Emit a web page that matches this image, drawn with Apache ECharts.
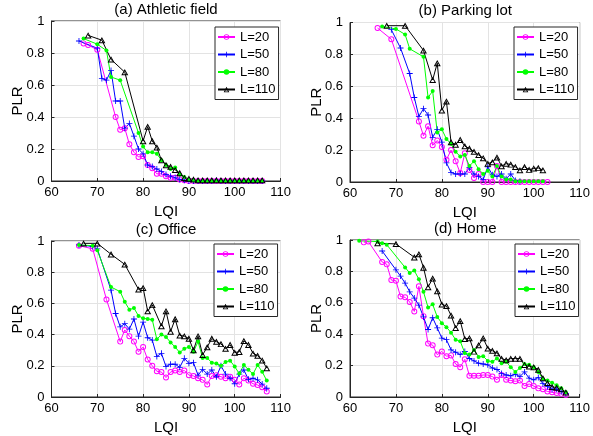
<!DOCTYPE html>
<html>
<head>
<meta charset="utf-8">
<script src="https://cdn.jsdelivr.net/npm/echarts@6/dist/echarts.min.js"></script>
<style>
  html, body { margin: 0; padding: 0; background: #fff; }
  #chart { width: 593px; height: 436px; }
</style>
</head>
<body>
<div id="chart"></div>
<script>
// [LQI, PLR] pairs, one array per panel and packet length
const aL20 = [[67,0.86],[68,0.85],[70,0.82],[74,0.40],[75,0.32],[76,0.33],[77,0.23],[78,0.18],[79,0.15],[80,0.155],[81,0.10],[82,0.08],[83,0.045],[84,0.045],[85,0.03],[86,0.02],[87,0.02],[88,0.01],[89,0.005],[90,0],[91,0],[92,0],[93,0],[94,0],[95,0],[96,0],[97,0],[98,0],[99,0],[100,0],[101,0],[102,0],[103,0],[104,0],[105,0],[106,0]]
const aL50 = [[66,0.875],[70,0.83],[71,0.64],[72,0.63],[73,0.69],[74,0.50],[75,0.50],[76,0.33],[77,0.36],[78,0.28],[79,0.20],[80,0.17],[81,0.10],[82,0.09],[83,0.075],[84,0.06],[85,0.04],[86,0.03],[87,0.02],[88,0.01],[89,0.005],[90,0],[91,0],[92,0],[93,0],[94,0],[95,0],[96,0.005],[97,0],[98,0],[99,0],[100,0],[101,0],[102,0],[103,0],[104,0],[105,0],[106,0]]
const aL80 = [[67,0.89],[70,0.855],[72,0.815],[73,0.65],[75,0.63],[79,0.30],[80,0.215],[81,0.18],[82,0.18],[83,0.17],[84,0.13],[85,0.10],[86,0.075],[87,0.085],[88,0.04],[89,0.025],[90,0.01],[91,0.005],[92,0],[93,0],[94,0],[95,0],[96,0],[97,0],[98,0],[99,0],[100,0],[101,0],[102,0],[103,0],[104,0],[105,0],[106,0]]
const aL110 = [[68,0.91],[71,0.88],[73,0.76],[76,0.68],[80,0.25],[81,0.34],[82,0.25],[83,0.21],[84,0.13],[85,0.10],[86,0.09],[87,0.07],[88,0.05],[89,0.02],[90,0.015],[91,0.01],[92,0.005],[93,0.005],[94,0.005],[95,0.005],[96,0.005],[97,0.005],[98,0.005],[99,0.005],[100,0.005],[101,0.005],[102,0.005],[103,0.005],[104,0.005],[105,0.005],[106,0.005]]

const bL20 = [[66,0.965],[69,0.895],[75,0.38],[76,0.29],[77,0.35],[78,0.23],[79,0.26],[80,0.22],[81,0.14],[82,0.20],[83,0.13],[84,0.056],[85,0.18],[86,0.075],[87,0.025],[88,0.05],[89,0],[90,0],[91,0],[92,0.10],[93,0],[94,0],[95,0],[96,0],[97,0],[98,0],[99,0],[100,0],[101,0],[102,0],[103,0]]
const bL50 = [[69,0.955],[71,0.84],[73,0.68],[74,0.53],[75,0.41],[76,0.46],[77,0.42],[78,0.28],[79,0.33],[80,0.25],[81,0.12],[82,0.06],[83,0.05],[84,0.05],[85,0.05],[86,0.09],[87,0.05],[88,0.035],[89,0.015],[90,0.095],[91,0.045],[92,0.035],[93,0.05],[94,0.02],[95,0.05],[96,0.01],[97,0.005]]
const bL80 = [[67,0.975],[70,0.96],[72,0.925],[73,0.835],[76,0.785],[77,0.53],[78,0.57],[79,0.31],[80,0.33],[81,0.27],[82,0.24],[83,0.19],[84,0.16],[85,0.17],[86,0.10],[87,0.13],[88,0.08],[89,0.05],[90,0.07],[91,0.035],[92,0.10],[93,0.035],[94,0.015],[95,0.015],[96,0.005],[97,0.005],[98,0.005],[99,0.005],[100,0.005],[101,0.005],[102,0.005]]
const bL110 = [[68,0.98],[72,0.98],[76,0.825],[78,0.64],[79,0.745],[80,0.45],[81,0.505],[82,0.25],[83,0.235],[84,0.265],[85,0.225],[86,0.21],[87,0.19],[88,0.17],[89,0.15],[90,0.115],[91,0.125],[92,0.155],[93,0.10],[94,0.115],[95,0.11],[96,0.095],[97,0.075],[98,0.095],[99,0.077],[100,0.085],[101,0.088],[102,0.075]]

const cL20 = [[66,0.97],[69,0.95],[72,0.625],[75,0.355],[76,0.43],[77,0.39],[78,0.355],[79,0.29],[80,0.32],[81,0.24],[82,0.20],[83,0.165],[84,0.16],[85,0.125],[86,0.16],[87,0.17],[88,0.16],[89,0.17],[90,0.14],[91,0.135],[92,0.12],[93,0.11],[94,0.08],[95,0.135],[96,0.14],[97,0.13],[98,0.12],[99,0.13],[100,0.11],[101,0.08],[102,0.12],[103,0.105],[104,0.085],[105,0.077],[106,0.062],[107,0.035]]
const cL50 = [[66,0.975],[69,0.965],[70,0.95],[73,0.685],[74,0.535],[75,0.45],[76,0.47],[77,0.435],[78,0.50],[79,0.39],[80,0.48],[81,0.38],[82,0.365],[83,0.26],[84,0.28],[85,0.195],[86,0.21],[87,0.21],[88,0.19],[89,0.248],[90,0.216],[91,0.22],[92,0.14],[93,0.177],[94,0.147],[95,0.173],[96,0.13],[97,0.20],[98,0.147],[99,0.12],[100,0.085],[101,0.147],[102,0.173],[103,0.113],[104,0.12],[105,0.11],[106,0.083],[107,0.056]]
const cL80 = [[66,0.975],[69,0.97],[70,0.94],[73,0.705],[75,0.675],[76,0.61],[77,0.56],[78,0.57],[79,0.52],[80,0.505],[81,0.50],[82,0.495],[83,0.37],[84,0.40],[85,0.385],[86,0.35],[87,0.32],[88,0.285],[89,0.31],[90,0.32],[91,0.29],[92,0.355],[93,0.25],[94,0.25],[95,0.22],[96,0.215],[97,0.20],[98,0.225],[99,0.233],[100,0.195],[101,0.15],[102,0.205],[103,0.175],[104,0.147],[105,0.205],[106,0.162],[107,0.105]]
const cL110 = [[67,0.985],[70,0.985],[73,0.915],[76,0.85],[79,0.69],[80,0.70],[81,0.55],[82,0.59],[84,0.455],[85,0.55],[86,0.42],[87,0.50],[88,0.395],[89,0.39],[90,0.375],[91,0.30],[92,0.39],[93,0.27],[94,0.32],[95,0.375],[96,0.355],[97,0.34],[98,0.31],[99,0.335],[100,0.285],[101,0.29],[102,0.36],[103,0.335],[104,0.28],[105,0.265],[106,0.235],[107,0.185]]

const dL20 = [[63,0.985],[64,0.99],[67,0.86],[68,0.845],[69,0.745],[70,0.74],[71,0.64],[72,0.635],[73,0.605],[74,0.545],[75,0.705],[76,0.515],[77,0.34],[78,0.33],[79,0.27],[80,0.29],[81,0.26],[82,0.265],[83,0.21],[84,0.19],[85,0.24],[86,0.135],[87,0.135],[88,0.135],[89,0.14],[90,0.14],[91,0.13],[92,0.11],[93,0.14],[94,0.11],[95,0.105],[96,0.10],[97,0.105],[98,0.07],[99,0.083],[100,0.07],[101,0.055],[102,0.05],[103,0.035],[104,0.03],[105,0.025],[106,0.02],[107,0.013]]
const dL50 = [[67,0.93],[70,0.81],[71,0.77],[72,0.725],[73,0.67],[74,0.63],[75,0.585],[76,0.51],[77,0.43],[78,0.505],[79,0.44],[80,0.375],[81,0.365],[82,0.30],[83,0.285],[84,0.27],[85,0.29],[86,0.245],[87,0.23],[88,0.215],[89,0.21],[90,0.205],[91,0.185],[92,0.175],[93,0.15],[94,0.14],[95,0.135],[96,0.145],[97,0.13],[98,0.16],[99,0.12],[100,0.11],[101,0.125],[102,0.085],[103,0.066],[104,0.05],[105,0.05],[106,0.035],[107,0.023]]
const dL80 = [[62,0.995],[66,0.99],[67,0.98],[68,0.97],[72,0.825],[73,0.79],[74,0.805],[75,0.75],[76,0.67],[77,0.57],[78,0.59],[79,0.51],[80,0.47],[81,0.445],[82,0.41],[83,0.365],[84,0.355],[85,0.28],[86,0.27],[87,0.30],[88,0.255],[89,0.26],[90,0.23],[91,0.225],[92,0.245],[93,0.215],[94,0.225],[95,0.19],[96,0.16],[97,0.185],[98,0.21],[99,0.205],[100,0.19],[101,0.16],[102,0.115],[103,0.105],[104,0.09],[105,0.075],[106,0.055],[107,0.03]]
const dL110 = [[66,0.98],[70,0.975],[74,0.89],[75,0.91],[76,0.825],[77,0.70],[78,0.755],[79,0.675],[80,0.59],[81,0.58],[82,0.52],[83,0.44],[84,0.485],[85,0.37],[86,0.375],[87,0.29],[88,0.33],[89,0.375],[90,0.31],[91,0.295],[92,0.28],[93,0.245],[94,0.235],[95,0.245],[96,0.245],[97,0.245],[98,0.205],[99,0.195],[100,0.19],[101,0.175],[102,0.12],[103,0.09],[104,0.065],[105,0.06],[106,0.05],[107,0.03]]

const titles = ['(a) Athletic field', '(b) Parking lot', '(c) Office', '(d) Home']
const lengths = ['L=20', 'L=50', 'L=80', 'L=110']
const panels = [
  [aL20, aL50, aL80, aL110],
  [bL20, bL50, bL80, bL110],
  [cL20, cL50, cL80, cL110],
  [dL20, dL50, dL80, dL110],
]
const xTicks = { min: 60, max: 110, step: 10 }
const yTicks = { min: 0, max: 1, step: 0.2 }

const FONT = '"Liberation Sans", Arial, Helvetica, sans-serif'
const INK = '#262626'
// marker outlines drawn as filled rings so the stroke stays thin, like the matlab ones
const RING = 'path://M5,0A5,5,0,1,1,5,10A5,5,0,1,1,5,0ZM5,1.6A3.4,3.4,0,1,0,5,8.4A3.4,3.4,0,1,0,5,1.6Z'
const PLUS = 'path://M4.3,0H5.7V4.3H10V5.7H5.7V10H4.3V5.7H0V4.3H4.3Z'
const TRI = 'path://M5,0L10,9L0,9ZM5,2.9L2.4,7.6L7.6,7.6Z'

const boxes = [
  { left: 51.5, top: 21, width: 229, height: 160 },
  { left: 350, top: 22.5, width: 230.5, height: 159.5 },
  { left: 51.5, top: 241, width: 229, height: 156 },
  { left: 350, top: 240, width: 230.5, height: 157 },
]
const legendAt = [[215, 27], [514, 27], [214, 244], [515, 244]]

const looks = [
  { color: '#ff00ff', symbol: RING, size: 6 },
  { color: '#0000ff', symbol: PLUS, size: 6 },
  { color: '#00ff00', symbol: 'circle', size: 4 },
  { color: '#000000', symbol: TRI, size: [7, 6.3] },
]

const chart = echarts.init(document.getElementById('chart'), null, { renderer: 'canvas' })

const series = []
panels.forEach((lines, i) => {
  lines.forEach((data, j) => {
    const lk = looks[j]
    series.push({
      type: 'line',
      name: lengths[j],
      xAxisIndex: i,
      yAxisIndex: i,
      data: data,
      symbol: lk.symbol,
      symbolSize: lk.size,
      showSymbol: true,
      lineStyle: { color: lk.color, width: 1 },
      itemStyle: { color: lk.color, borderWidth: 0 },
      emphasis: { disabled: true },
      animation: false,
    })
  })
})

const option = {
  backgroundColor: '#fff',
  grid: boxes.map((b) => ({ ...b, show: true, borderColor: INK, borderWidth: 1, containLabel: false })),
  xAxis: boxes.map((b, i) => ({
    type: 'value',
    gridIndex: i,
    min: xTicks.min,
    max: xTicks.max,
    interval: xTicks.step,
    name: 'LQI',
    nameLocation: 'middle',
    nameGap: 23,
    nameTextStyle: { fontFamily: FONT, fontSize: 15, color: '#000' },
    axisLine: { show: true, lineStyle: { color: INK } },
    axisTick: { show: true, inside: true, length: 3, lineStyle: { color: INK } },
    axisLabel: { fontFamily: FONT, fontSize: 13, color: '#000', margin: 5 },
    splitLine: { show: true, lineStyle: { color: '#e3e3e3', width: 1 } },
  })),
  yAxis: boxes.map((b, i) => ({
    type: 'value',
    gridIndex: i,
    min: yTicks.min,
    max: yTicks.max,
    interval: yTicks.step,
    name: 'PLR',
    nameLocation: 'middle',
    nameGap: 26,
    nameMoveOverlap: false,
    nameTextStyle: { fontFamily: FONT, fontSize: 15, color: '#000' },
    axisLine: { show: true, lineStyle: { color: INK } },
    axisTick: { show: true, inside: true, length: 3, lineStyle: { color: INK } },
    axisLabel: { fontFamily: FONT, fontSize: 13, color: '#000', margin: 7 },
    splitLine: { show: true, lineStyle: { color: '#e3e3e3', width: 1 } },
  })),
  legend: legendAt.map(([x, y]) => ({
    data: lengths,
    orient: 'vertical',
    left: x,
    top: y,
    selectedMode: false,
    backgroundColor: '#fff',
    borderColor: INK,
    borderWidth: 1,
    borderRadius: 0,
    padding: [3, 3, 3, 2],
    itemGap: 3.5,
    itemWidth: 17,
    itemHeight: 7,
    textStyle: { fontFamily: FONT, fontSize: 13, color: '#000', lineHeight: 14 },
  })),
  // panel titles centred over each box
  graphic: boxes.map((b, i) => ({
    type: 'text',
    x: b.left + b.width / 2,
    y: b.top - 19,
    style: {
      text: titles[i],
      align: 'center',
      verticalAlign: 'top',
      font: '15px ' + FONT,
      fill: '#000',
    },
  })),
  series: series,
}

chart.setOption(option)
</script>
</body>
</html>
